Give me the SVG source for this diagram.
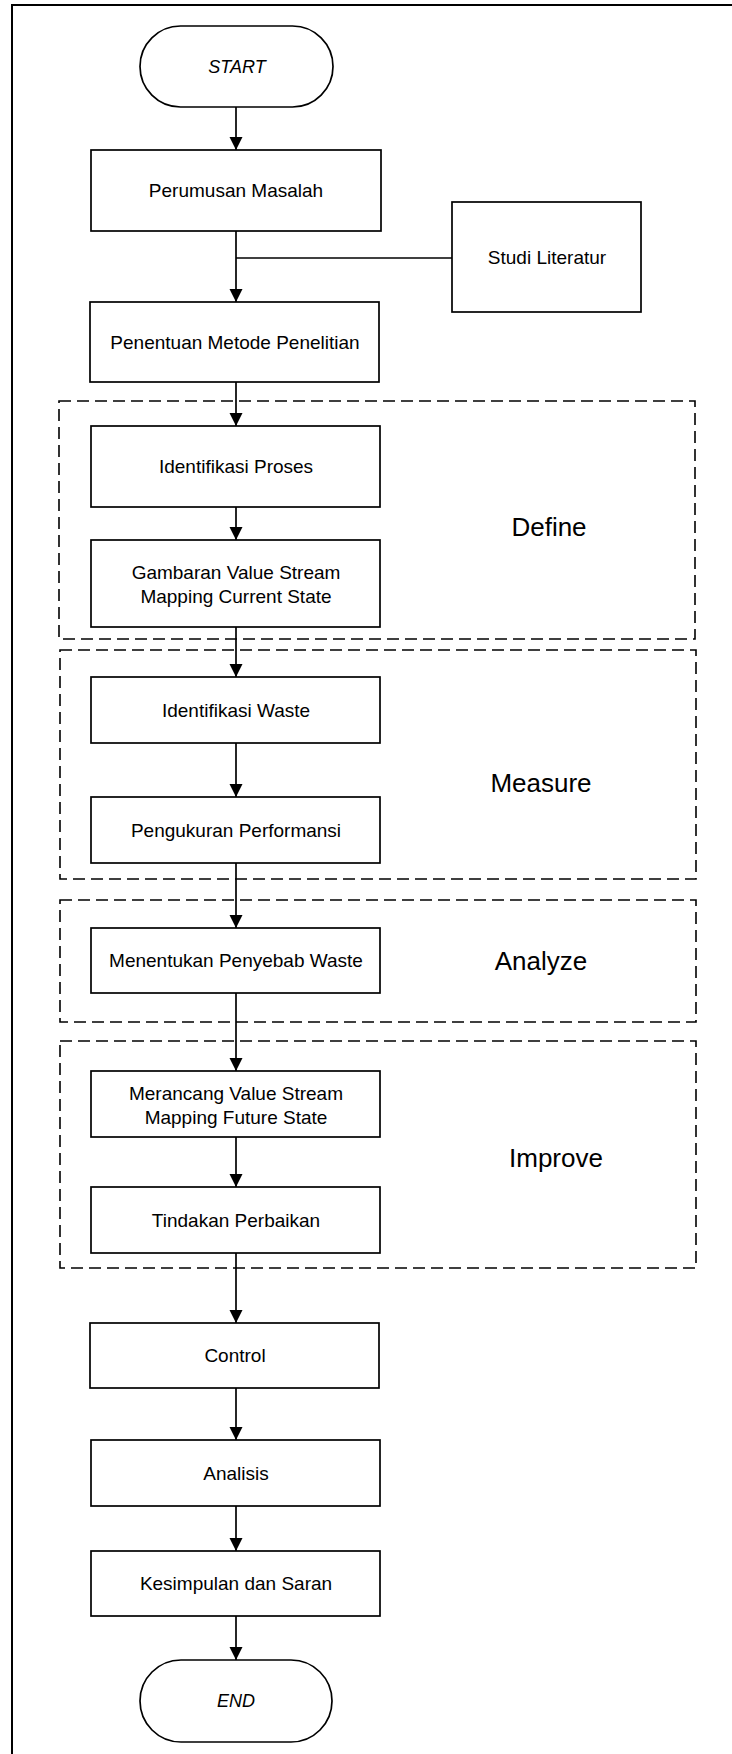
<svg xmlns="http://www.w3.org/2000/svg" width="732" height="1754" viewBox="0 0 732 1754">
<style>
.box{fill:#fff;stroke:#000;stroke-width:1.7}
.grp{fill:none;stroke:#000;stroke-width:1.6;stroke-dasharray:12 6}
.lbl{font-family:"Liberation Sans",Arial,sans-serif;font-size:19px;fill:#000;text-anchor:middle}
.term{font-family:"Liberation Sans",Arial,sans-serif;font-size:18px;font-style:italic;fill:#000;text-anchor:middle}
.phase{font-family:"Liberation Sans",Arial,sans-serif;font-size:26px;fill:#000;text-anchor:middle}
.con{fill:none;stroke:#000;stroke-width:1.7}
</style>
<defs>
<marker id="arr" markerWidth="14" markerHeight="14" refX="13" refY="7" orient="auto" markerUnits="userSpaceOnUse">
<path d="M0,0.5 L13,7 L0,13.5 Z" fill="#000"/>
</marker>
</defs>
<rect x="0" y="0" width="732" height="1754" fill="#fff"/>
<rect id="frame" x="12" y="5" width="740" height="1760" fill="none" stroke="#000" stroke-width="2"/>

<g id="phases">
<g id="define"><rect class="grp" x="59" y="401" width="636" height="238"/><text class="phase" x="549" y="536">Define</text></g>
<g id="measure"><rect class="grp" x="60" y="650" width="636" height="229"/><text class="phase" x="541" y="792">Measure</text></g>
<g id="analyze"><rect class="grp" x="60" y="900" width="636" height="122"/><text class="phase" x="541" y="970">Analyze</text></g>
<g id="improve"><rect class="grp" x="60" y="1041" width="636" height="227"/><text class="phase" x="556" y="1167">Improve</text></g>
</g>

<g id="connectors">
<line class="con" x1="236" y1="107" x2="236" y2="150" marker-end="url(#arr)"/>
<line class="con" x1="236" y1="231" x2="236" y2="302" marker-end="url(#arr)"/>
<line class="con" x1="452" y1="258" x2="236" y2="258"/>
<line class="con" x1="236" y1="382" x2="236" y2="426" marker-end="url(#arr)"/>
<line class="con" x1="236" y1="507" x2="236" y2="540" marker-end="url(#arr)"/>
<line class="con" x1="236" y1="627" x2="236" y2="677" marker-end="url(#arr)"/>
<line class="con" x1="236" y1="743" x2="236" y2="797" marker-end="url(#arr)"/>
<line class="con" x1="236" y1="863" x2="236" y2="928" marker-end="url(#arr)"/>
<line class="con" x1="236" y1="993" x2="236" y2="1071" marker-end="url(#arr)"/>
<line class="con" x1="236" y1="1137" x2="236" y2="1187" marker-end="url(#arr)"/>
<line class="con" x1="236" y1="1253" x2="236" y2="1323" marker-end="url(#arr)"/>
<line class="con" x1="236" y1="1388" x2="236" y2="1440" marker-end="url(#arr)"/>
<line class="con" x1="236" y1="1506" x2="236" y2="1551" marker-end="url(#arr)"/>
<line class="con" x1="236" y1="1616" x2="236" y2="1660" marker-end="url(#arr)"/>
</g>

<g id="start"><rect class="box" x="140" y="26" width="193" height="81" rx="40.5" ry="40.5"/><text class="term" x="237" y="73">START</text></g>
<g id="perumusan"><rect class="box" x="91" y="150" width="290" height="81"/><text class="lbl" x="236" y="197">Perumusan Masalah</text></g>
<g id="studi"><rect class="box" x="452" y="202" width="189" height="110"/><text class="lbl" x="547" y="264">Studi Literatur</text></g>
<g id="penentuan"><rect class="box" x="90" y="302" width="289" height="80"/><text class="lbl" x="235" y="349">Penentuan Metode Penelitian</text></g>
<g id="identproses"><rect class="box" x="91" y="426" width="289" height="81"/><text class="lbl" x="236" y="473">Identifikasi Proses</text></g>
<g id="gambaran"><rect class="box" x="91" y="540" width="289" height="87"/><text class="lbl" x="236" y="579">Gambaran Value Stream</text><text class="lbl" x="236" y="603">Mapping Current State</text></g>
<g id="identwaste"><rect class="box" x="91" y="677" width="289" height="66"/><text class="lbl" x="236" y="717">Identifikasi Waste</text></g>
<g id="pengukuran"><rect class="box" x="91" y="797" width="289" height="66"/><text class="lbl" x="236" y="837">Pengukuran Performansi</text></g>
<g id="menentukan"><rect class="box" x="91" y="928" width="289" height="65"/><text class="lbl" x="236" y="967">Menentukan Penyebab Waste</text></g>
<g id="merancang"><rect class="box" x="91" y="1071" width="289" height="66"/><text class="lbl" x="236" y="1100">Merancang Value Stream</text><text class="lbl" x="236" y="1124">Mapping Future State</text></g>
<g id="tindakan"><rect class="box" x="91" y="1187" width="289" height="66"/><text class="lbl" x="236" y="1227">Tindakan Perbaikan</text></g>
<g id="control"><rect class="box" x="90" y="1323" width="289" height="65"/><text class="lbl" x="235" y="1362">Control</text></g>
<g id="analisis"><rect class="box" x="91" y="1440" width="289" height="66"/><text class="lbl" x="236" y="1480">Analisis</text></g>
<g id="kesimpulan"><rect class="box" x="91" y="1551" width="289" height="65"/><text class="lbl" x="236" y="1590">Kesimpulan dan Saran</text></g>
<g id="end"><rect class="box" x="140" y="1660" width="192" height="82" rx="41" ry="41"/><text class="term" x="236" y="1707">END</text></g>
</svg>
